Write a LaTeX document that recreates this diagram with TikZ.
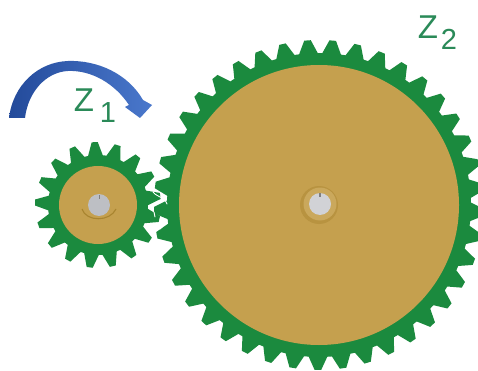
\documentclass[tikz,border=0pt]{standalone}
\usepackage{fontspec}
\setmainfont{Liberation Sans}
\definecolor{geargreen}{HTML}{1B8A3E}
\definecolor{gearbrass}{HTML}{C5A04E}
\definecolor{ringbrass}{HTML}{A8842F}
\definecolor{hubgray}{HTML}{BDBFC4}
\definecolor{labelgreen}{HTML}{2A8A58}
\definecolor{arrowdark}{HTML}{234A9A}
\definecolor{arrowlight}{HTML}{4A78CC}
% #1 centre x, #2 centre y, #3 teeth, #4 root r, #5 tip r, #6 phase (deg, clockwise from top)
\newcommand{\geartrace}[6]{%
  \pgfmathsetmacro{\pitch}{360/#3}%
  \pgfmathtruncatemacro{\lastt}{#3-1}%
  \fill[geargreen,line join=round] ({#1+#4*sin(#6-0.5*\pitch)},{#2-#4*cos(#6-0.5*\pitch)})
  \foreach \k [evaluate=\k as \ang using #6+\k*\pitch] in {0,...,\lastt}{
    -- ({#1+#4*sin(\ang-0.40*\pitch)},{#2-#4*cos(\ang-0.40*\pitch)})
    -- ({#1+#5*sin(\ang-0.13*\pitch)},{#2-#5*cos(\ang-0.13*\pitch)})
    -- ({#1+#5*sin(\ang+0.13*\pitch)},{#2-#5*cos(\ang+0.13*\pitch)})
    -- ({#1+#4*sin(\ang+0.40*\pitch)},{#2-#4*cos(\ang+0.40*\pitch)})
    -- ({#1+#4*sin(\ang+0.5*\pitch)},{#2-#4*cos(\ang+0.5*\pitch)})
  } -- cycle;%
}
\tikzset{
  zlabel/.style={text=labelgreen,inner sep=0pt,font=\fontsize{33}{33}\selectfont},
  zsub/.style={text=labelgreen,inner sep=0pt,font=\fontsize{29}{29}\selectfont},
  mesh/.style={white,line width=0.9pt,line cap=round}
}
\begin{document}
\begin{tikzpicture}[x=1pt,y=-1pt]
\useasboundingbox (0,0) rectangle (478,371);
\fill[white] (0,0) rectangle (478,371);
% large gear
\geartrace{319}{205}{41}{152}{165}{-4}
\fill[gearbrass] (319,205) circle[radius=140pt];
% small gear
\geartrace{98}{205}{17}{50}{63}{-3}
\fill[gearbrass] (98,205) circle[radius=39pt];
% mesh slivers
\draw[mesh] (153,192) .. controls (156,196) and (160,196) .. (163,199);
\draw[mesh] (165,200) -- (167,204);
\draw[mesh] (154,212) -- (155,217);
\draw[mesh] (160,220) .. controls (164,222) and (164,226) .. (160,229);
\draw[mesh] (160,178) .. controls (164,174) and (164,172) .. (160,170);
% small hub
\draw[ringbrass,line width=1.1pt] (82,209) .. controls (86,222) and (110,222) .. (116,209);
\fill[hubgray] (99,205) circle[radius=11pt];
\fill[gray] (99,195) rectangle (100,199);
% large hub
\fill[ringbrass!45!gearbrass] (319,205) circle[radius=19pt];
\fill[gearbrass!92!white] (320,204) circle[radius=16.5pt];
\fill[hubgray!70!white] (320,204) circle[radius=11pt];
\fill[gray] (319,193) rectangle (320.5,197);
% rotation arrow
\shade[left color=arrowdark,right color=arrowlight,line join=round]
  (9,118) .. controls (13,85) and (38,62) .. (68,61)
  .. controls (98,60) and (128,74) .. (143,100)
  -- (152,105) -- (140,118) -- (125,107) -- (129,105)
  .. controls (115,84) and (92,70) .. (68,71)
  .. controls (46,72) and (28,92) .. (25,118) -- cycle;
% labels
\node[zlabel] (zone) at (84,100) {Z};
\node[zsub] (zonesub) at (108,113) {1};
\node[zlabel] (ztwo) at (428,27) {Z};
\node[zsub] (ztwosub) at (449,39) {2};
\end{tikzpicture}
\end{document}
